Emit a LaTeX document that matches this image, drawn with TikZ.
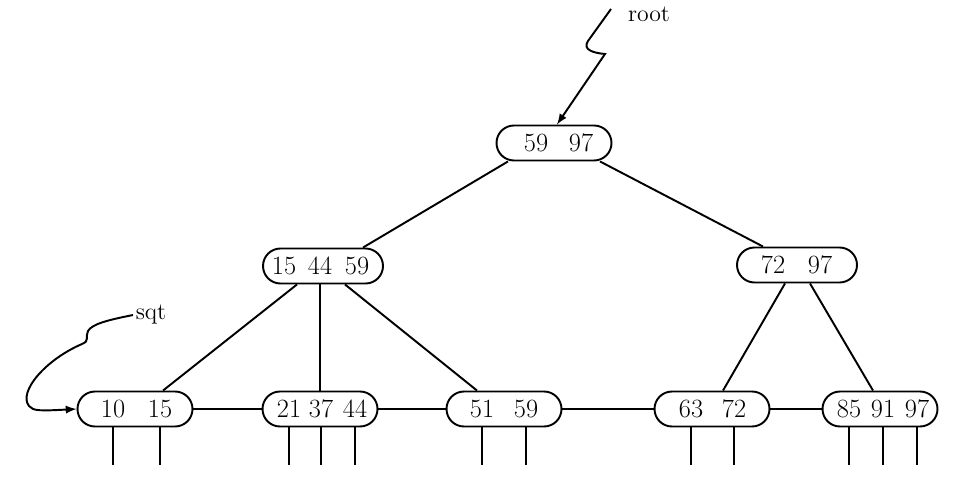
\documentclass[tikz,border=0pt]{standalone}
\usepackage{tikz}
\usetikzlibrary{
arrows,
positioning,
calc
}

\begin{document}
\begin{tikzpicture}[x=0.2mm,y=-0.2mm,line width=1.1pt,
      bnode/.style={draw,rounded corners=3.5mm,minimum width=23mm,minimum height=7mm,inner sep=0pt},
      key/.style={font=\fontsize{15}{17}\selectfont,inner sep=1pt},
      lbl/.style={font=\fontsize{13.5}{15}\selectfont,inner sep=1pt},
      ptr/.style={line width=1.1pt}]
      \useasboundingbox (0,0) rectangle (970,486);

      % root and inner nodes
      \node[bnode] (r) at (554,143) {};
      \node[key] (rk1) at (536,143) {59};
      \node[key] (rk2) at (581,143) {97};

      \node[bnode,minimum width=24mm] (i1) at (323,266) {};
      \node[key] (i1k1) at (284,266) {15};
      \node[key] (i1k2) at (320,266) {44};
      \node[key] (i1k3) at (357,266) {59};

      \node[bnode,minimum width=24mm] (i2) at (797,265) {};
      \node[key] (i2k1) at (773,265) {72};
      \node[key] (i2k2) at (820,265) {97};

      % leaves
      \node[bnode] (l1) at (135,409) {};
      \node[key] (l1k1) at (113,409) {10};
      \node[key] (l1k2) at (160,409) {15};

      \node[bnode] (l2) at (320,409) {};
      \node[key] (l2k1) at (289,409) {21};
      \node[key] (l2k2) at (321,409) {37};
      \node[key] (l2k3) at (355,409) {44};

      \node[bnode] (l3) at (504,409) {};
      \node[key] (l3k1) at (482,409) {51};
      \node[key] (l3k2) at (526,409) {59};

      \node[bnode] (l4) at (712,409) {};
      \node[key] (l4k1) at (691,409) {63};
      \node[key] (l4k2) at (734,409) {72};

      \node[bnode] (l5) at (880,409) {};
      \node[key] (l5k1) at (849,409) {85};
      \node[key] (l5k2) at (883,409) {91};
      \node[key] (l5k3) at (917,409) {97};

      \path ([xshift=-9.2mm]r.south) edge ([xshift=8mm]i1.north);
      \path ([xshift=9.2mm]r.south) edge ([xshift=-6.8mm]i2.north);
      \path ([xshift=-5.2mm]i1.south) edge ([xshift=5.6mm]l1.north);
      \path (l2.north |- i1.south) edge (l2.north);
      \path ([xshift=4.4mm]i1.south) edge ([xshift=-5.4mm]l3.north);
      \path ([xshift=-2.4mm]i2.south) edge ([xshift=2.2mm]l4.north);
      \path ([xshift=2.6mm]i2.south) edge ([xshift=-1.4mm]l5.north);

      % sequence links
      \path (l1) edge (l2);
      \path (l2) edge (l3);
      \path (l3) edge (l4);
      \path (l4) edge (l5);

      % pointers below the leaves
      \foreach \k in {l1k1,l1k2,l2k1,l2k2,l2k3,l3k1,l3k2,l4k1,l4k2,l5k1,l5k2,l5k3}
        \draw[ptr] (\k |- l1.south) -- ++(0,38);

      % root and sqt pointers
      \node[lbl] (rootlbl) at (649,14) {root};
      \coordinate (rt) at (611,9);
      \draw[-latex] (rt) -- (588,41) .. controls (582,50) and (594,53) .. (605,54)
            -- ([xshift=0.6mm]r.north);

      \node[lbl] (sqtlbl) at (151,315) {sqt};
      \draw[-latex] (sqtlbl.west) .. controls (108,320) and (92,324) .. (88,331)
            .. controls (85,337) and (90,341) .. (82,344)
            .. controls (45,360) and (18,392) .. (29,406)
            .. controls (33,411) and (40,411) .. (l1.west);
\end{tikzpicture}
\end{document}
